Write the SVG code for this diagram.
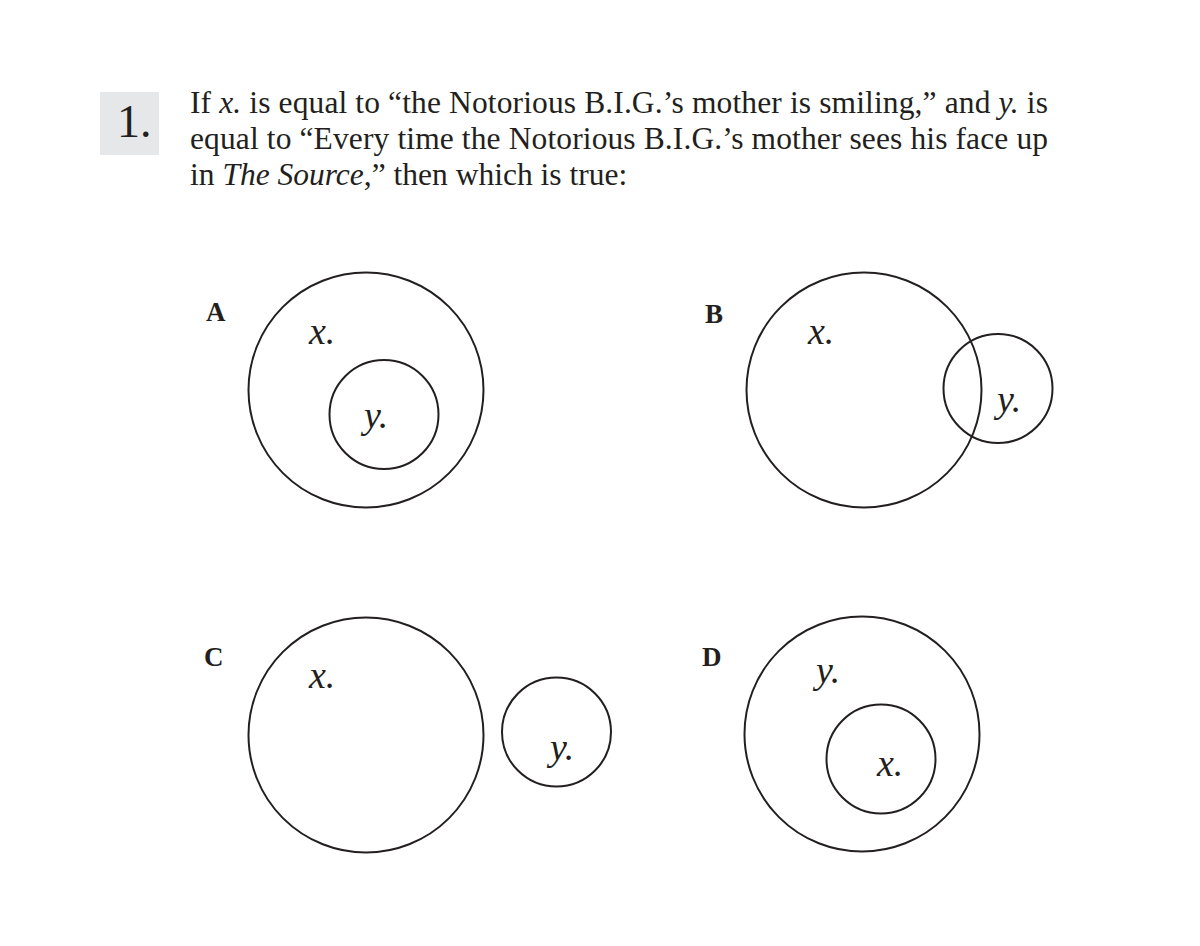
<svg xmlns="http://www.w3.org/2000/svg" width="1200" height="946" viewBox="0 0 1200 946">
<style>
.c{fill:none;stroke:#231f20;stroke-width:2}
.t{font-family:"Liberation Serif","Times New Roman",serif;fill:#231f20}
.body{font-size:31.5px}
.lab{font-size:27px;font-weight:bold}
.v{font-size:38px;font-style:italic}
</style>
<rect width="1200" height="946" fill="#ffffff"/>
<g id="header">
<rect x="100" y="92" width="59" height="63" fill="#e6e7e8"/>
<text class="t" x="117" y="137" font-size="46">1.</text>
<text class="t body" x="190" y="113" textLength="858" lengthAdjust="spacing">If <tspan font-style="italic">x.</tspan> is equal to “the Notorious B.I.G.’s mother is smiling,” and <tspan font-style="italic">y.</tspan> is</text>
<text class="t body" x="190" y="149" textLength="858" lengthAdjust="spacing">equal to “Every time the Notorious B.I.G.’s mother sees his face up</text>
<text class="t body" x="190" y="185">in <tspan font-style="italic">The Source</tspan>,” then which is true:</text>
</g>
<g id="optionA">
<text class="t lab" x="206" y="321">A</text>
<circle class="c" cx="366" cy="390" r="117.5"/>
<circle class="c" cx="384" cy="414.5" r="54.5"/>
<text class="t v" x="309" y="344">x.</text>
<text class="t v" x="364" y="428">y.</text>
</g>
<g id="optionB">
<text class="t lab" x="705" y="323">B</text>
<circle class="c" cx="864" cy="390" r="117.5"/>
<circle class="c" cx="998" cy="388.5" r="54.5"/>
<text class="t v" x="808" y="344">x.</text>
<text class="t v" x="997" y="412">y.</text>
</g>
<g id="optionC">
<text class="t lab" x="204" y="666">C</text>
<circle class="c" cx="366" cy="735" r="117.5"/>
<circle class="c" cx="556.5" cy="732" r="54.5"/>
<text class="t v" x="309" y="688">x.</text>
<text class="t v" x="550" y="760">y.</text>
</g>
<g id="optionD">
<text class="t lab" x="702" y="666">D</text>
<circle class="c" cx="862" cy="734" r="117.5"/>
<circle class="c" cx="881" cy="759" r="54.5"/>
<text class="t v" x="816" y="683">y.</text>
<text class="t v" x="877" y="776">x.</text>
</g>
<g id="connectors"></g>
</svg>
